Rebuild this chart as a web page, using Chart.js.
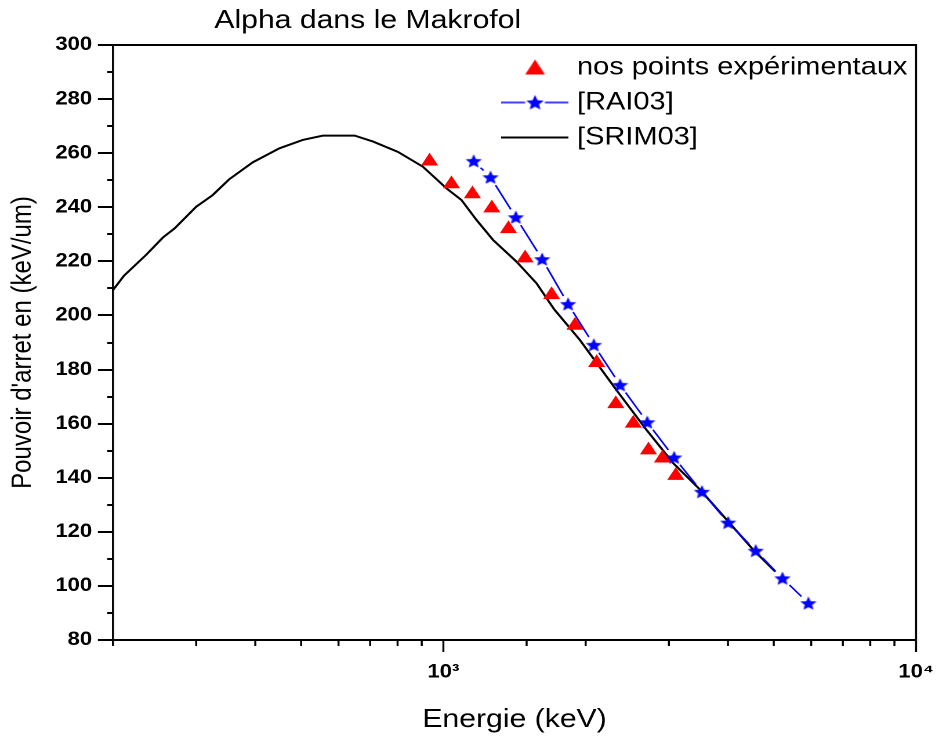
<!DOCTYPE html>
<html>
<head>
<meta charset="utf-8">
<title>Alpha dans le Makrofol</title>
<script src="https://cdn.jsdelivr.net/npm/chart.js@4.4.0/dist/chart.umd.min.js"></script>
<style>
  body { margin: 0; background: #fff; overflow: hidden; }
  /* the original export is stretched horizontally (about 1.16x), so draw
     the chart narrower and widen it the same way */
  #wrap { width: 807px; height: 740px; transform: scaleX(1.16); transform-origin: 0 0; }
</style>
</head>
<body>
<div id="wrap"><canvas id="myChart"></canvas></div>
<script>
const chartTitle = "Alpha dans le Makrofol";
const xTitle = "Energie (keV)";
const yTitle = "Pouvoir d'arret en (keV/um)";
const seriesNames = ["nos points expérimentaux", "[RAI03]", "[SRIM03]"];

// nos points experimentaux (triangles)
const expEnergy = [935, 1040, 1152, 1266, 1373, 1489, 1694, 1898, 2110, 2316, 2522, 2716, 2907, 3102];
const expStopping = [257.0, 248.6, 244.9, 239.7, 232.0, 221.2, 207.6, 196.3, 182.5, 167.3, 160.1, 150.2, 147.2, 140.8];

// [RAI03] (stars)
const raiEnergy = [1159, 1258, 1423, 1618, 1836, 2081, 2365, 2700, 3076, 3523, 4004, 4579, 5217, 5920];
const raiStopping = [257.1, 251.1, 236.3, 220.8, 204.2, 189.1, 174.3, 160.5, 147.5, 134.8, 123.4, 113.0, 102.8, 93.6];

// [SRIM03] (line)
const srimEnergy = [200, 211, 235, 255, 270, 300, 325, 352, 395, 450, 504, 556, 649, 710, 801, 905, 1015, 1092, 1175, 1274, 1428, 1574, 1715, 1945, 2324, 2692, 3067, 3495, 3977, 4528, 5036];
const srimStopping = [209.4, 214.7, 222.4, 228.8, 232.2, 240.2, 244.5, 250.3, 256.6, 261.8, 264.9, 266.5, 266.5, 264.3, 260.5, 255.0, 247.0, 242.7, 235.3, 227.9, 219.9, 211.9, 202.3, 190.9, 172.4, 157.6, 145.3, 135.5, 124.4, 113.3, 105.3];

const xLabelValues = [1000, 10000];
const xLabelTexts = ["10\u00B3", "10\u2074"];

function toPoints(xs, ys) {
  return xs.map((x, i) => ({ x: x, y: ys[i] }));
}

function makeCanvas(w, h) {
  const c = document.createElement("canvas");
  c.width = w;
  c.height = h;
  return c;
}

function drawStar(g, cx, cy, r) {
  g.fillStyle = "#0000ff";
  g.beginPath();
  for (let i = 0; i < 10; i++) {
    const rad = i % 2 === 0 ? r : r * 0.45;
    const a = -Math.PI / 2 + i * Math.PI / 5;
    const px = cx + rad * Math.cos(a);
    const py = cy + rad * Math.sin(a);
    if (i === 0) g.moveTo(px, py); else g.lineTo(px, py);
  }
  g.closePath();
  g.fill();
}

// marker for the RAI03 points
const starMarker = makeCanvas(18, 18);
drawStar(starMarker.getContext("2d"), 9, 9.6, 7.4);

// legend symbols
const legendTriangle = makeCanvas(58, 28);
(function () {
  const g = legendTriangle.getContext("2d");
  g.fillStyle = "#ff0000";
  g.beginPath();
  g.moveTo(29, 6);
  g.lineTo(37.5, 21);
  g.lineTo(20.5, 21);
  g.closePath();
  g.fill();
})();

const legendStarLine = makeCanvas(58, 28);
(function () {
  const g = legendStarLine.getContext("2d");
  g.strokeStyle = "#0000ff";
  g.lineWidth = 1.5;
  g.beginPath();
  g.moveTo(0, 14);
  g.lineTo(20.5, 14);
  g.moveTo(37.5, 14);
  g.lineTo(58, 14);
  g.stroke();
  drawStar(g, 29, 14.6, 8);
})();

const legendLine = makeCanvas(58, 28);
(function () {
  const g = legendLine.getContext("2d");
  g.strokeStyle = "#000";
  g.lineWidth = 2;
  g.beginPath();
  g.moveTo(0, 14);
  g.lineTo(58, 14);
  g.stroke();
})();

const legendSymbols = [legendTriangle, legendStarLine, legendLine];

// gap in the RAI03 line around every star
function gapDash(ctx) {
  const L = Math.hypot(ctx.p1.x - ctx.p0.x, ctx.p1.y - ctx.p0.y);
  const g = 9;
  if (L <= 2 * g) return [0, L + 1];
  return [0, g, L - 2 * g, g + 1];
}

// move title and legend to where the original has them
const placeBoxes = {
  id: "placeBoxes",
  afterLayout(chart) {
    const t = chart.titleBlock;
    t.left = 117;
    t.right = 517;
    const lg = chart.legend;
    lg.left = 427.5;
    lg.right = 805;
    lg.top = chart.chartArea.top;
    lg.bottom = chart.chartArea.bottom;
  }
};

// box around the plot and outward ticks
const frameAndTicks = {
  id: "frameAndTicks",
  afterDraw(chart) {
    const { ctx, chartArea: a, scales } = chart;
    const x = scales.x;
    const y = scales.y;
    ctx.save();
    ctx.strokeStyle = "#000";

    // vertical strokes (get widened by the stretch)
    ctx.lineWidth = 1.75;
    ctx.beginPath();
    ctx.moveTo(a.left, a.top - 1);
    ctx.lineTo(a.left, a.bottom + 1);
    ctx.moveTo(a.right, a.top - 1);
    ctx.lineTo(a.right, a.bottom + 1);
    x.ticks.forEach((t) => {
      const px = x.getPixelForValue(t.value);
      const major = xLabelValues.some((v) => Math.abs(v - t.value) < 1e-6);
      ctx.moveTo(px, a.bottom);
      ctx.lineTo(px, a.bottom + (major ? 12 : 6));
    });
    ctx.stroke();

    // horizontal strokes
    ctx.lineWidth = 2;
    ctx.beginPath();
    ctx.moveTo(a.left, a.top);
    ctx.lineTo(a.right, a.top);
    ctx.moveTo(a.left, a.bottom);
    ctx.lineTo(a.right, a.bottom);
    y.ticks.forEach((t) => {
      const py = Math.round(y.getPixelForValue(t.value));
      const major = t.value % 20 === 0;
      ctx.moveTo(a.left, py);
      ctx.lineTo(a.left - (major ? 13 : 5), py);
    });
    ctx.stroke();
    ctx.restore();
  }
};

Chart.defaults.font.family = "'Liberation Sans', Arial, sans-serif";
Chart.defaults.color = "#000";

new Chart(document.getElementById("myChart").getContext("2d"), {
  type: "line",
  data: {
    datasets: [
      {
        label: seriesNames[0],
        data: toPoints(expEnergy, expStopping),
        showLine: false,
        pointStyle: "triangle",
        pointRadius: 8.5,
        pointBorderWidth: 0,
        pointBackgroundColor: "#ff0000",
        pointBorderColor: "#ff0000",
      },
      {
        label: seriesNames[1],
        data: toPoints(raiEnergy, raiStopping),
        borderColor: "#0000ff",
        borderWidth: 1.5,
        pointStyle: starMarker,
        pointRadius: 8,
        segment: {
          borderDash: gapDash,
        },
      },
      {
        label: seriesNames[2],
        data: toPoints(srimEnergy, srimStopping),
        borderColor: "#000",
        borderWidth: 2,
        pointRadius: 0,
      },
    ],
  },
  options: {
    responsive: true,
    maintainAspectRatio: false,
    animation: false,
    devicePixelRatio: 2,
    layout: {
      padding: { right: 17.3 },
    },
    plugins: {
      title: {
        display: true,
        text: chartTitle,
        align: "center",
        color: "#000",
        font: { size: 26, weight: "normal" },
        padding: { top: 5, bottom: 8.8 },
      },
      legend: {
        position: "chartArea",
        align: "start",
        labels: {
          usePointStyle: true,
          pointStyleWidth: 47.4,
          padding: 10,
          color: "#000",
          font: { size: 25 },
          generateLabels: (chart) =>
            chart.data.datasets.map((ds, i) => ({
              text: ds.label,
              pointStyle: legendSymbols[i],
              fillStyle: "transparent",
              strokeStyle: "transparent",
              lineWidth: 0,
              fontColor: "#000",
              hidden: false,
              datasetIndex: i,
            })),
        },
      },
      tooltip: { enabled: false },
    },
    scales: {
      x: {
        type: "logarithmic",
        min: 200,
        max: 10000,
        border: { display: false },
        grid: { display: false, drawTicks: true, tickLength: 19 },
        ticks: {
          autoSkip: false,
          maxRotation: 0,
          padding: 2,
          font: { size: 19, weight: "bold" },
          callback: (v) => {
            const i = xLabelValues.findIndex((w) => Math.abs(w - v) < 1e-6);
            return i >= 0 ? xLabelTexts[i] : "";
          },
        },
        title: {
          display: true,
          text: xTitle,
          font: { size: 26 },
          padding: { top: 0, bottom: 4.4 },
        },
        afterFit: (scale) => {
          scale.height = 100;
        },
      },
      y: {
        min: 80,
        max: 300,
        border: { display: false },
        grid: { display: false, drawTicks: true, tickLength: 13 },
        ticks: {
          stepSize: 10,
          autoSkip: false,
          padding: 5,
          font: { size: 19, weight: "bold" },
          callback: (v) => (v % 20 === 0 ? v : ""),
        },
        title: {
          display: true,
          text: yTitle,
          font: { size: 24 },
          padding: { top: 5.4, bottom: 0 },
        },
        afterFit: (scale) => {
          scale.width = 97.4;
        },
      },
    },
  },
  plugins: [placeBoxes, frameAndTicks],
});
</script>
</body>
</html>
